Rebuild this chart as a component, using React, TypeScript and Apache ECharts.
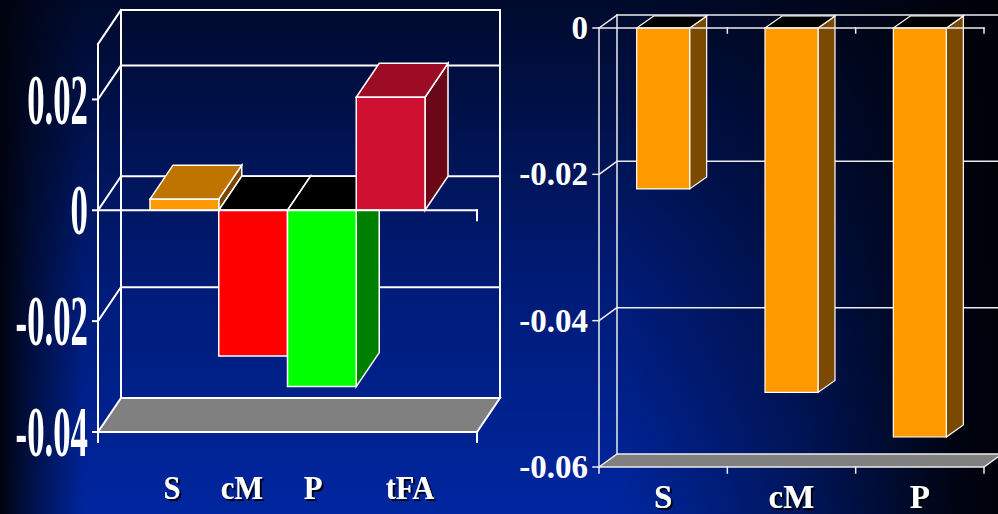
import React, { useEffect, useRef } from 'react';
import * as echarts from 'echarts';

// Left panel: one value per fatty-acid class
const leftCategories = ['S', 'cM', 'P', 'tFA'];
const leftValues = [0.002, -0.0263, -0.0318, 0.0204];
const leftTicks = [-0.04, -0.02, 0, 0.02];
const leftTickLabels = ['-0.04', '-0.02', '0', '0.02'];
const leftFrontColors = ['#ff9900', '#ff0000', '#00ff00', '#d01030'];
const leftTopColors = ['#c07400', '#000000', '#000000', '#9c0c25'];
const leftSideColors = ['#7a4800', '#800000', '#008000', '#6a0818'];

// Right panel
const rightCategories = ['S', 'cM', 'P'];
const rightValues = [-0.022, -0.0498, -0.0559];
const rightTicks = [-0.06, -0.04, -0.02, 0];
const rightTickLabels = ['-0.06', '-0.04', '-0.02', '0'];
const rightFrontColors = ['#ff9900', '#ff9900', '#ff9900'];
const rightTopColors = ['#000000', '#000000', '#000000'];
const rightSideColors = ['#7b4a00', '#7b4a00', '#7b4a00'];

// Layout of the left category captions (they sit apart from the bar centres)
const LEFT_CAPTION_X = [172, 242, 313, 410];
const LEFT_CAPTION_Y = 487;

type FrameCfg = {
  min: number;
  max: number;
  ticks: number[];
  padL: number;
  padR: number;
  dx: number;
  dy: number;
  lw: number;
  color: string;
  floor: string;
  tickLen: number;
  dropLen: number;
  bottomLen: number;
  count: number; // number of category boundaries to mark (0 = only the right end)
};

function frameBack(c: FrameCfg) {
  return (params: any, api: any) => {
    const cs = params.coordSys;
    const xL = cs.x - c.padL;
    const xR = cs.x + cs.width + c.padR;
    const yOf = (v: number) => api.coord([0, v])[1];
    const yTop = yOf(c.max);
    const yBot = yOf(c.min);
    const st = { stroke: c.color, lineWidth: c.lw, lineCap: 'square' };
    const ch: any[] = [];
    ch.push({
      type: 'polygon',
      shape: {
        points: [
          [xL, yBot],
          [xL + c.dx, yBot + c.dy],
          [xR + c.dx, yBot + c.dy],
          [xR, yBot],
        ],
      },
      style: { fill: c.floor, stroke: c.color, lineWidth: c.lw, lineJoin: 'miter' },
    });
    // back wall outline
    ch.push({ type: 'line', shape: { x1: xL + c.dx, y1: yTop + c.dy, x2: xL + c.dx, y2: yBot + c.dy }, style: st });
    ch.push({ type: 'line', shape: { x1: xR + c.dx, y1: yTop + c.dy, x2: xR + c.dx, y2: yBot + c.dy }, style: st });
    ch.push({ type: 'line', shape: { x1: xL + c.dx, y1: yTop + c.dy, x2: xR + c.dx, y2: yTop + c.dy }, style: st });
    // gridlines on the back wall
    c.ticks.forEach((t) => {
      if (t > c.min && t < c.max) {
        const y = yOf(t) + c.dy;
        ch.push({ type: 'line', shape: { x1: xL + c.dx, y1: y, x2: xR + c.dx, y2: y }, style: st });
      }
    });
    // side-wall diagonals
    const levels = Array.from(new Set([...c.ticks, c.max])).filter((t) => t > c.min);
    levels.forEach((t) => {
      const y = yOf(t);
      ch.push({ type: 'line', shape: { x1: xL, y1: y, x2: xL + c.dx, y2: y + c.dy }, style: st });
    });
    return { type: 'group', children: ch };
  };
}

function frameFront(c: FrameCfg) {
  return (params: any, api: any) => {
    const cs = params.coordSys;
    const xL = cs.x - c.padL;
    const xR = cs.x + cs.width + c.padR;
    const yOf = (v: number) => api.coord([0, v])[1];
    const yTop = yOf(c.max);
    const yBot = yOf(c.min);
    const y0 = yOf(0);
    const st = { stroke: c.color, lineWidth: c.lw, lineCap: 'square' };
    const ch: any[] = [];
    ch.push({ type: 'line', shape: { x1: xL, y1: yTop, x2: xL, y2: yBot + c.bottomLen }, style: st });
    c.ticks.forEach((t) => {
      const y = yOf(t);
      ch.push({ type: 'line', shape: { x1: xL - c.tickLen, y1: y, x2: xL, y2: y }, style: st });
    });
    ch.push({ type: 'line', shape: { x1: xL, y1: y0, x2: xR, y2: y0 }, style: st });
    const xs: number[] = [];
    if (c.count > 0) {
      const band = api.size([1, 0])[0];
      for (let i = 0; i < c.count; i++) xs.push(api.coord([i, 0])[0] + band / 2);
    } else {
      xs.push(xR);
    }
    xs.forEach((x) => {
      ch.push({ type: 'line', shape: { x1: x, y1: y0, x2: x, y2: y0 + c.dropLen }, style: st });
      ch.push({ type: 'line', shape: { x1: x, y1: yBot, x2: x, y2: yBot + c.bottomLen }, style: st });
    });
    return { type: 'group', children: ch };
  };
}

type BarCfg = {
  front: string[];
  top: string[];
  side: string[];
  ratio: number;
  dx: number;
  dy: number;
  lw: number;
};

function bars3d(c: BarCfg) {
  return (params: any, api: any) => {
    const i = api.value(0);
    const v = api.value(1);
    const [xc, yv] = api.coord([i, v]);
    const y0 = api.coord([i, 0])[1];
    const w = api.size([1, 0])[0] * c.ratio;
    const x1 = xc - w / 2;
    const x2 = xc + w / 2;
    const yHi = Math.min(yv, y0);
    const yLo = Math.max(yv, y0);
    const yCap = v >= 0 ? yv : y0;
    const base = params.dataIndex * 10;
    const edge = { stroke: '#ffffff', lineWidth: c.lw, lineJoin: 'miter' };
    return {
      type: 'group',
      children: [
        {
          type: 'polygon',
          z2: base + 1,
          shape: { points: [[x2, yHi], [x2 + c.dx, yHi + c.dy], [x2 + c.dx, yLo + c.dy], [x2, yLo]] },
          style: { fill: c.side[params.dataIndex], ...edge },
        },
        {
          type: 'polygon',
          z2: base + 2,
          shape: { points: [[x1, yCap], [x1 + c.dx, yCap + c.dy], [x2 + c.dx, yCap + c.dy], [x2, yCap]] },
          style: { fill: c.top[params.dataIndex], ...edge },
        },
        {
          type: 'rect',
          z2: base + 3,
          shape: { x: x1, y: yHi, width: w, height: yLo - yHi },
          style: { fill: c.front[params.dataIndex], ...edge },
        },
      ],
    };
  };
}

function tickLabels(labels: string[], gap: number, font: string, scaleX: number) {
  return (params: any, api: any) => {
    const cs = params.coordSys;
    const y = api.coord([0, api.value(1)])[1];
    return {
      type: 'text',
      x: cs.x - gap,
      y,
      scaleX,
      scaleY: 1,
      style: {
        text: labels[params.dataIndex],
        x: 0,
        y: 0,
        fill: '#ffffff',
        font,
        textAlign: 'right',
        textVerticalAlign: 'middle',
      },
    };
  };
}

export default function App() {
  const ref = useRef<HTMLDivElement>(null);

  useEffect(() => {
    if (!ref.current) return;
    const chart = echarts.init(ref.current, undefined, { renderer: 'svg' });

    const leftFrame: FrameCfg = {
      min: -0.04,
      max: 0.03,
      ticks: leftTicks,
      padL: 52,
      padR: 52,
      dx: 23,
      dy: -34,
      lw: 2,
      color: '#ffffff',
      floor: '#808080',
      tickLen: 5,
      dropLen: 10,
      bottomLen: 10,
      count: 0,
    };
    const rightFrame: FrameCfg = {
      min: -0.06,
      max: 0,
      ticks: rightTicks,
      padL: 0,
      padR: 0,
      dx: 18,
      dy: -13,
      lw: 1.5,
      color: '#ececec',
      floor: '#808080',
      tickLen: 6,
      dropLen: 5,
      bottomLen: 6,
      count: rightCategories.length,
    };

    const captionStyle = {
      fill: '#ffffff',
      textShadowColor: 'rgba(0,0,0,0.9)',
      textShadowOffsetX: 2,
      textShadowOffsetY: 2,
      textShadowBlur: 1,
    };

    chart.setOption({
      animation: false,
      backgroundColor: 'transparent',
      grid: [
        { left: 150, top: 44, width: 275, height: 388 },
        { left: 599, top: 28, width: 385, height: 439 },
      ],
      xAxis: [
        { type: 'category', data: leftCategories, gridIndex: 0, show: false },
        { type: 'category', data: rightCategories, gridIndex: 1, show: false },
      ],
      yAxis: [
        { type: 'value', min: -0.04, max: 0.03, gridIndex: 0, show: false },
        { type: 'value', min: -0.06, max: 0, gridIndex: 1, show: false },
      ],
      graphic: LEFT_CAPTION_X.map((x, i) => ({
        type: 'text',
        x,
        y: LEFT_CAPTION_Y,
        scaleX: 0.9,
        z: 10,
        style: {
          text: leftCategories[i],
          font: 'bold 34px "Liberation Serif"',
          textAlign: 'center',
          textVerticalAlign: 'middle',
          ...captionStyle,
        },
      })),
      series: [
        {
          type: 'custom',
          name: 'left frame',
          xAxisIndex: 0,
          yAxisIndex: 0,
          z: 1,
          silent: true,
          data: [[0, 0]],
          renderItem: frameBack(leftFrame),
        },
        {
          type: 'custom',
          name: 'left bars',
          xAxisIndex: 0,
          yAxisIndex: 0,
          z: 2,
          silent: true,
          data: leftValues.map((v, i) => [i, v]),
          renderItem: bars3d({
            front: leftFrontColors,
            top: leftTopColors,
            side: leftSideColors,
            ratio: 1,
            dx: 23,
            dy: -34,
            lw: 1.5,
          }),
        },
        {
          type: 'custom',
          name: 'left axes',
          xAxisIndex: 0,
          yAxisIndex: 0,
          z: 3,
          silent: true,
          data: [[0, 0]],
          renderItem: frameFront(leftFrame),
        },
        {
          type: 'custom',
          name: 'left tick labels',
          xAxisIndex: 0,
          yAxisIndex: 0,
          z: 4,
          silent: true,
          data: leftTicks.map((t) => [0, t]),
          renderItem: tickLabels(leftTickLabels, 52 + 10, 'bold 71px "Liberation Serif"', 0.49),
        },
        {
          type: 'custom',
          name: 'right frame',
          xAxisIndex: 1,
          yAxisIndex: 1,
          z: 1,
          silent: true,
          data: [[0, 0]],
          renderItem: frameBack(rightFrame),
        },
        {
          type: 'custom',
          name: 'right bars',
          xAxisIndex: 1,
          yAxisIndex: 1,
          z: 2,
          silent: true,
          data: rightValues.map((v, i) => [i, v]),
          renderItem: bars3d({
            front: rightFrontColors,
            top: rightTopColors,
            side: rightSideColors,
            ratio: 0.413,
            dx: 17,
            dy: -12,
            lw: 1.2,
          }),
        },
        {
          type: 'custom',
          name: 'right axes',
          xAxisIndex: 1,
          yAxisIndex: 1,
          z: 3,
          silent: true,
          data: [[0, 0]],
          renderItem: frameFront(rightFrame),
        },
        {
          type: 'custom',
          name: 'right tick labels',
          xAxisIndex: 1,
          yAxisIndex: 1,
          z: 4,
          silent: true,
          data: rightTicks.map((t) => [0, t]),
          renderItem: tickLabels(rightTickLabels, 11, 'bold 33px "Liberation Serif"', 1),
        },
        {
          type: 'custom',
          name: 'right captions',
          xAxisIndex: 1,
          yAxisIndex: 1,
          z: 4,
          silent: true,
          data: rightCategories.map((_, i) => [i, -0.06]),
          renderItem: (params: any, api: any) => {
            const cs = params.coordSys;
            const x = api.coord([api.value(0), 0])[0];
            return {
              type: 'text',
              x,
              y: cs.y + cs.height + 30,
              style: {
                text: rightCategories[params.dataIndex],
                x: 0,
                y: 0,
                font: 'bold 33px "Liberation Serif"',
                textAlign: 'center',
                textVerticalAlign: 'middle',
                ...captionStyle,
              },
            };
          },
        },
      ],
    });

    return () => {
      chart.dispose();
    };
  }, []);

  return (
    <div
      ref={ref}
      style={{
        position: 'absolute',
        left: 0,
        top: 0,
        width: 998,
        height: 514,
        background:
          'linear-gradient(to right, rgba(0,3,14,1) 0%, rgba(0,3,14,0.6) 3%, rgba(0,3,14,0) 8.5%, rgba(0,3,14,0) 62%, rgba(0,3,14,0.45) 80%, rgba(0,2,10,0.95) 96%, rgba(0,2,10,1) 100%), linear-gradient(to bottom, #000a2c 0%, #00114a 22%, #001b76 55%, #0026a0 100%)',
      }}
    />
  );
}
